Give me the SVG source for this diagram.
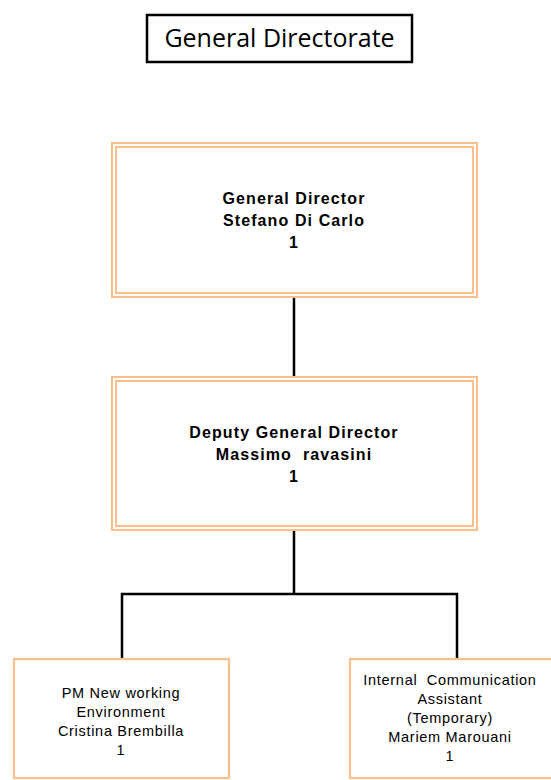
<svg xmlns="http://www.w3.org/2000/svg" width="551" height="780" viewBox="0 0 551 780">
<style>
.bg{fill:#ffffff}
.title{fill:#fff;stroke:#000;stroke-width:2.5}
.dbl{fill:none;stroke:#fbbf8c;stroke-width:2}
.single{fill:#fff;stroke:#fbbf8c;stroke-width:2.2}
.conn{fill:none;stroke:#000;stroke-width:2.5}
.t1{font-family:"Open Sans","Noto Sans",sans-serif;font-size:25px;fill:#000;text-anchor:middle}
.tb{font-family:"Liberation Sans",Arial,sans-serif;font-size:16px;letter-spacing:1.1px;font-weight:bold;fill:#000;text-anchor:middle;white-space:pre}
.tr{font-family:"Liberation Sans",Arial,sans-serif;font-size:14.5px;letter-spacing:0.7px;fill:#000;text-anchor:middle;white-space:pre}
</style>
<rect class="bg" x="0" y="0" width="551" height="780"/>
<g id="connectors">
<line class="conn" x1="294" y1="298" x2="294" y2="377"/>
<line class="conn" x1="294" y1="530" x2="294" y2="594"/>
<polyline class="conn" points="122,659 122,594 457,594 457,659"/>
</g>
<g id="title">
<rect class="title" x="147" y="15" width="265" height="47"/>
<text class="t1" x="279.5" y="47">General Directorate</text>
</g>
<g id="general-director">
<rect class="dbl" x="112" y="143" width="365" height="154"/>
<rect class="dbl" x="116" y="147" width="357" height="146"/>
<text class="tb" x="294" y="204">General Director</text>
<text class="tb" x="294" y="226">Stefano Di Carlo</text>
<text class="tb" x="294" y="248">1</text>
</g>
<g id="deputy-general-director">
<rect class="dbl" x="112" y="377" width="365" height="153"/>
<rect class="dbl" x="116" y="381" width="357" height="145"/>
<text class="tb" x="294" y="438">Deputy General Director</text>
<text class="tb" x="294" y="460">Massimo  ravasini</text>
<text class="tb" x="294" y="482">1</text>
</g>
<g id="pm-new-working">
<rect class="single" x="14" y="659" width="215" height="119"/>
<text class="tr" x="121" y="698">PM New working</text>
<text class="tr" x="121" y="717">Environment</text>
<text class="tr" x="121" y="736">Cristina Brembilla</text>
<text class="tr" x="121" y="755">1</text>
</g>
<g id="internal-communication">
<rect class="single" x="350" y="659" width="215" height="119"/>
<text class="tr" x="450" y="685">Internal  Communication</text>
<text class="tr" x="450" y="704">Assistant</text>
<text class="tr" x="450" y="723">(Temporary)</text>
<text class="tr" x="450" y="742">Mariem Marouani</text>
<text class="tr" x="450" y="761">1</text>
</g>
</svg>
